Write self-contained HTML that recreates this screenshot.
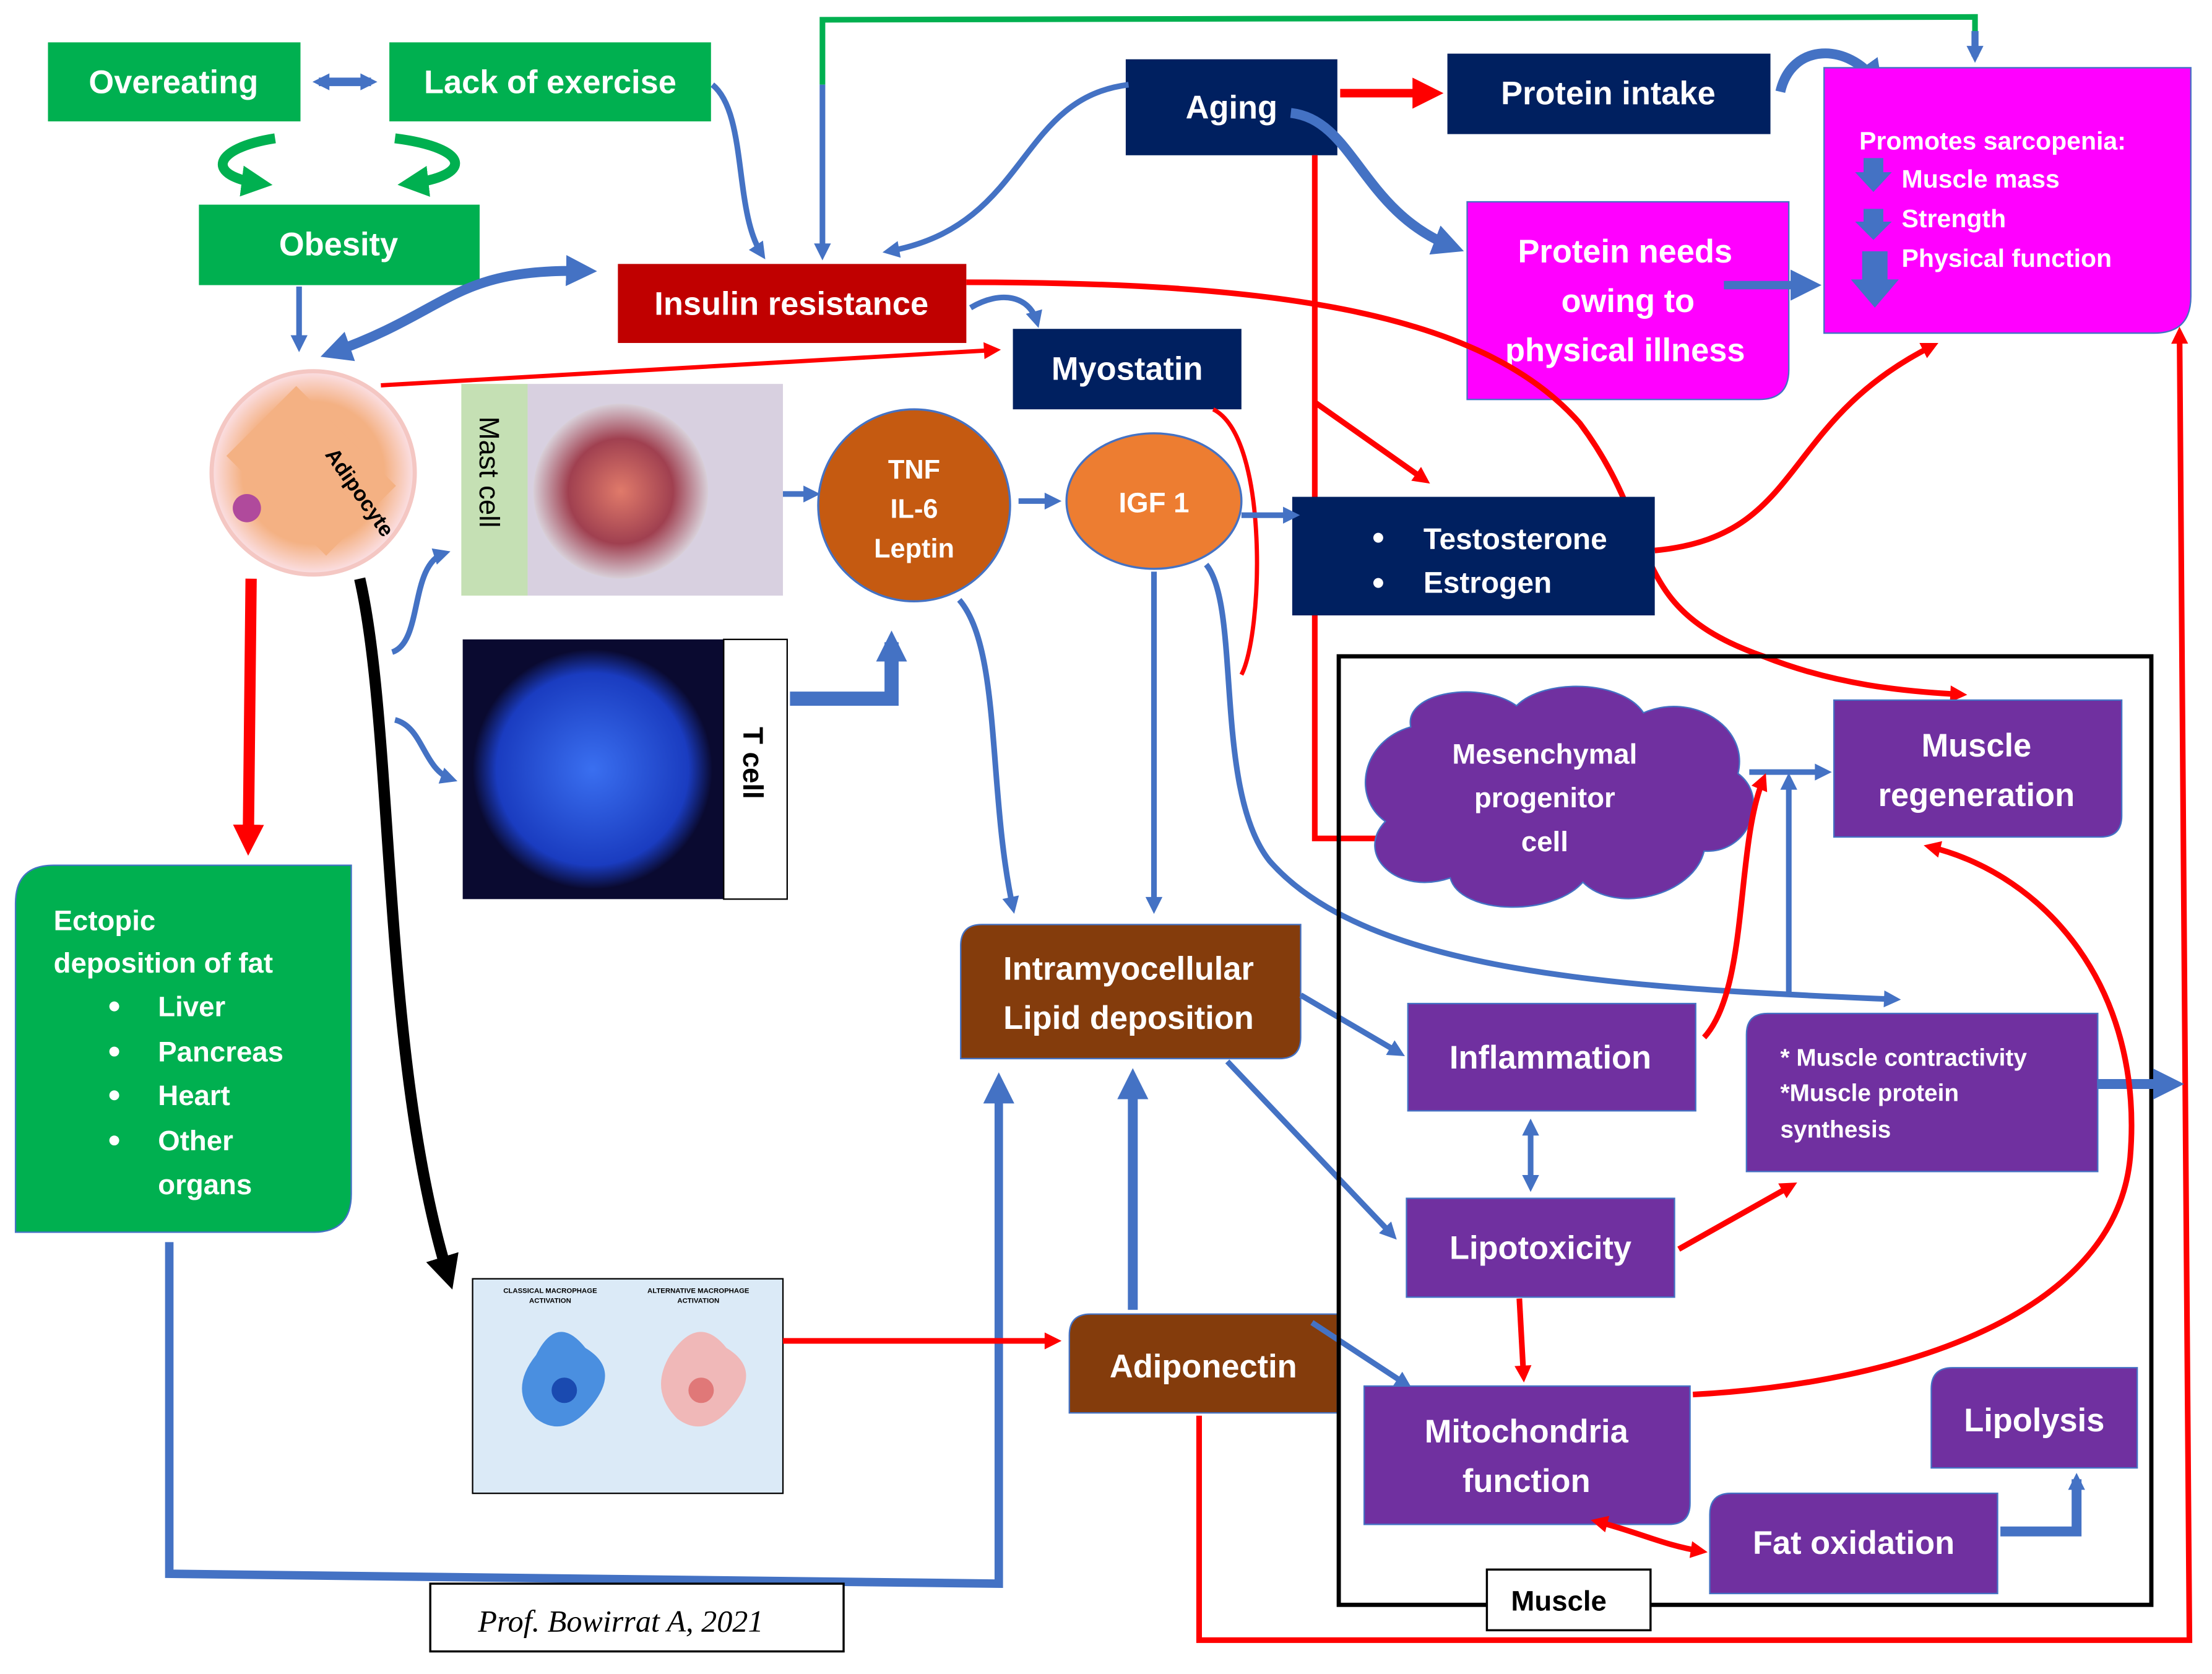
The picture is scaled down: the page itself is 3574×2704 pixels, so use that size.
<!DOCTYPE html>
<html><head><meta charset="utf-8"><style>
html,body{margin:0;padding:0;background:#fff;}
svg{display:block;}
text{font-family:"Liberation Sans","DejaVu Sans",sans-serif;font-weight:bold;fill:#fff;}
</style></head><body>
<svg width="3574" height="2704" viewBox="0 0 1568 1186" preserveAspectRatio="none" xmlns="http://www.w3.org/2000/svg">
<defs>
<marker id="ab" viewBox="0 0 4 4" markerWidth="14" markerHeight="12" refX="2.5" refY="2" orient="auto" markerUnits="userSpaceOnUse"><path d="M0,0 L4,2 L0,4 z" fill="#4472c4"/></marker>
<marker id="abL" viewBox="0 0 4 4" markerWidth="22" markerHeight="22" refX="2.5" refY="2" orient="auto" markerUnits="userSpaceOnUse"><path d="M0,0 L4,2 L0,4 z" fill="#4472c4"/></marker>
<marker id="ar" viewBox="0 0 4 4" markerWidth="14" markerHeight="12" refX="2.5" refY="2" orient="auto" markerUnits="userSpaceOnUse"><path d="M0,0 L4,2 L0,4 z" fill="#ff0000"/></marker>
<marker id="arL" viewBox="0 0 4 4" markerWidth="22" markerHeight="22" refX="2.5" refY="2" orient="auto" markerUnits="userSpaceOnUse"><path d="M0,0 L4,2 L0,4 z" fill="#ff0000"/></marker>
<marker id="ak" viewBox="0 0 4 4" markerWidth="24" markerHeight="24" refX="2.5" refY="2" orient="auto" markerUnits="userSpaceOnUse"><path d="M0,0 L4,2 L0,4 z" fill="#000"/></marker>
<marker id="ag" viewBox="0 0 4 4" markerWidth="22" markerHeight="22" refX="2.5" refY="2" orient="auto" markerUnits="userSpaceOnUse"><path d="M0,0 L4,2 L0,4 z" fill="#00b050"/></marker>
<marker id="abs" viewBox="0 0 4 4" markerWidth="14" markerHeight="12" refX="2.5" refY="2" orient="auto-start-reverse" markerUnits="userSpaceOnUse"><path d="M0,0 L4,2 L0,4 z" fill="#4472c4"/></marker>
<marker id="absL" viewBox="0 0 4 4" markerWidth="22" markerHeight="22" refX="2.5" refY="2" orient="auto-start-reverse" markerUnits="userSpaceOnUse"><path d="M0,0 L4,2 L0,4 z" fill="#4472c4"/></marker>
<marker id="ars" viewBox="0 0 4 4" markerWidth="14" markerHeight="12" refX="2.5" refY="2" orient="auto-start-reverse" markerUnits="userSpaceOnUse"><path d="M0,0 L4,2 L0,4 z" fill="#ff0000"/></marker>
<radialGradient id="adip" cx="50%" cy="50%" r="50%"><stop offset="0.7" stop-color="#f4b183"/><stop offset="1" stop-color="#fbe0e6"/></radialGradient>
<radialGradient id="mast" cx="50%" cy="50%" r="50%"><stop offset="0" stop-color="#e07a6a"/><stop offset="0.6" stop-color="#a04050"/><stop offset="1" stop-color="#d8cfd8"/></radialGradient>
<radialGradient id="tc" cx="50%" cy="50%" r="50%"><stop offset="0" stop-color="#3a6ff0"/><stop offset="0.8" stop-color="#1a3cc0"/><stop offset="1" stop-color="#0a0a30"/></radialGradient>
</defs>

<polyline points="583,60 583,14 1400,12 1400,24" fill="none" stroke="#00b050" stroke-width="4"/>
<line x1="583" y1="60" x2="583" y2="180" stroke="#4472c4" stroke-width="4" marker-end="url(#ab)"/>
<path d="M1400,22 L1400,40" stroke="#4472c4" stroke-width="5" marker-end="url(#ab)"/>

<rect x="34" y="30" width="179" height="56" fill="#00b050"/>
<text x="123" y="66" font-size="23" text-anchor="middle">Overeating</text>
<rect x="276" y="30" width="228" height="56" fill="#00b050"/>
<text x="390" y="66" font-size="23" text-anchor="middle">Lack of exercise</text>
<line x1="226" y1="58" x2="263" y2="58" stroke="#4472c4" stroke-width="6" marker-end="url(#ab)" marker-start="url(#abs)"/>
<rect x="141" y="145" width="199" height="57" fill="#00b050"/>
<text x="240" y="181" font-size="23" text-anchor="middle">Obesity</text>
<path d="M195,98 C150,105 145,125 185,130" fill="none" stroke="#00b050" stroke-width="7" marker-end="url(#ag)"/>
<path d="M280,98 C335,105 335,125 290,130" fill="none" stroke="#00b050" stroke-width="7" marker-end="url(#ag)"/>

<rect x="438" y="187" width="247" height="56" fill="#c00000"/>
<text x="561" y="223" font-size="23" text-anchor="middle">Insulin resistance</text>
<path d="M505,60 C530,80 520,150 540,180" fill="none" stroke="#4472c4" stroke-width="4" marker-end="url(#ab)"/>
<path d="M212,203 L212,245" stroke="#4472c4" stroke-width="4" marker-end="url(#ab)"/>
<path d="M235,250 C320,220 320,190 415,192" fill="none" stroke="#4472c4" stroke-width="7" marker-end="url(#abL)" marker-start="url(#absL)"/>
<path d="M688,218 C710,205 730,210 735,228" fill="none" stroke="#4472c4" stroke-width="4" marker-end="url(#ab)"/>

<rect x="798" y="42" width="150" height="68" fill="#002060"/>
<text x="873" y="84" font-size="23" text-anchor="middle">Aging</text>
<path d="M800,60 C720,70 730,160 630,178" fill="none" stroke="#4472c4" stroke-width="4" marker-end="url(#ab)"/>
<path d="M950,66 L1015,66" stroke="#ff0000" stroke-width="6" marker-end="url(#arL)"/>
<path d="M915,80 C960,85 965,150 1030,175" fill="none" stroke="#4472c4" stroke-width="7" marker-end="url(#abL)"/>
<rect x="1026" y="38" width="229" height="57" fill="#002060"/>
<text x="1140" y="74" font-size="23" text-anchor="middle">Protein intake</text>
<path d="M1262,65 C1270,30 1310,30 1330,58" fill="none" stroke="#4472c4" stroke-width="7" marker-end="url(#abL)"/>
<path d="M1293,48 L1553,48 L1553,210 Q1553,236 1527,236 L1293,236 Z" fill="#ff00ff" stroke="#4472c4" stroke-width="1"/>
<text x="1318" y="106" font-size="18">Promotes sarcopenia:</text>
<text x="1348" y="133" font-size="18">Muscle mass</text>
<text x="1348" y="161" font-size="18">Strength</text>
<text x="1348" y="189" font-size="18">Physical function</text>
<path d="M1321,112 L1335,112 L1335,122 L1341,122 L1328,136 L1315,122 L1321,122 Z" fill="#4472c4"/>
<path d="M1321,148 L1335,148 L1335,157 L1341,157 L1328,170 L1315,157 L1321,157 Z" fill="#4472c4"/>
<path d="M1320,178 L1338,178 L1338,198 L1346,198 L1329,218 L1312,198 L1320,198 Z" fill="#4472c4"/>
<path d="M1040,143 L1268,143 L1268,262 Q1268,283 1247,283 L1040,283 Z" fill="#ff00ff" stroke="#4472c4" stroke-width="1"/>
<text x="1152" y="186" font-size="23" text-anchor="middle">Protein needs</text>
<text x="1154" y="221" font-size="23" text-anchor="middle">owing to</text>
<text x="1152" y="256" font-size="23" text-anchor="middle">physical illness</text>
<path d="M1222,202 L1283,202" stroke="#4472c4" stroke-width="6" marker-end="url(#abL)"/>

<rect x="718" y="233" width="162" height="57" fill="#002060"/>
<text x="799" y="269" font-size="23" text-anchor="middle">Myostatin</text>
<path d="M270,273 L705,248" stroke="#ff0000" stroke-width="3" marker-end="url(#ar)"/>
<path d="M685,200 C900,200 1050,220 1120,300 C1180,380 1150,430 1250,465 C1300,485 1350,490 1390,492" fill="none" stroke="#ff0000" stroke-width="4" marker-end="url(#ar)"/>
<path d="M860,290 C900,310 895,450 880,478" fill="none" stroke="#ff0000" stroke-width="3"/>
<path d="M932,110 L932,594 L995,594" fill="none" stroke="#ff0000" stroke-width="4" marker-end="url(#ar)"/>
<path d="M932,285 L1010,340" stroke="#ff0000" stroke-width="4" marker-end="url(#ar)"/>

<rect x="916" y="352" width="257" height="84" fill="#002060"/>
<circle cx="977" cy="381" r="3.5" fill="#fff"/><circle cx="977" cy="413" r="3.5" fill="#fff"/>
<text x="1009" y="389" font-size="21">Testosterone</text>
<text x="1009" y="420" font-size="21">Estrogen</text>
<path d="M1173,390 C1280,380 1260,300 1370,245" fill="none" stroke="#ff0000" stroke-width="4" marker-end="url(#ar)"/>
<path d="M850,1003 L850,1162 L1552,1162 L1545,236" fill="none" stroke="#ff0000" stroke-width="4" marker-end="url(#ar)"/>

<circle cx="222" cy="335" r="72" fill="url(#adip)" stroke="#f4c7c3" stroke-width="3"/>
<rect x="170" y="300" width="100" height="70" fill="#f4b183" transform="rotate(45 222 335)"/>
<circle cx="175" cy="360" r="10" fill="#b04a9c"/>
<text x="230" y="322" font-size="15" style="fill:#000" transform="rotate(55 230 322)">Adipocyte</text>

<rect x="374" y="272" width="181" height="150" fill="#d8d0e0"/>
<circle cx="440" cy="348" r="62" fill="url(#mast)"/>
<rect x="327" y="272" width="47" height="150" fill="#c5e0b4"/>
<text x="340" y="295" font-size="20" style="fill:#000;font-weight:normal" transform="rotate(90 340 295)">Mast cell</text>
<path d="M555,350 L577,350" stroke="#4472c4" stroke-width="4" marker-end="url(#ab)"/>
<path d="M278,462 C300,455 290,400 315,392" fill="none" stroke="#4472c4" stroke-width="4" marker-end="url(#ab)"/>

<rect x="328" y="453" width="185" height="184" fill="#0a0a30"/>
<circle cx="420" cy="545" r="85" fill="url(#tc)"/>
<rect x="513" y="453" width="45" height="184" fill="#fff" stroke="#000" stroke-width="1"/>
<text x="527" y="515" font-size="20" style="fill:#000" transform="rotate(90 527 515)">T cell</text>
<path d="M280,510 C300,515 300,545 320,552" fill="none" stroke="#4472c4" stroke-width="4" marker-end="url(#ab)"/>
<path d="M560,495 L632,495 L632,455" fill="none" stroke="#4472c4" stroke-width="10" marker-end="url(#abL)"/>

<circle cx="648" cy="358" r="68" fill="#c55a11" stroke="#4472c4" stroke-width="1.5"/>
<text x="648" y="339" font-size="19" text-anchor="middle">TNF</text>
<text x="648" y="367" font-size="19" text-anchor="middle">IL-6</text>
<text x="648" y="395" font-size="19" text-anchor="middle">Leptin</text>
<path d="M722,355 L748,355" stroke="#4472c4" stroke-width="4" marker-end="url(#ab)"/>
<path d="M680,425 C710,460 700,560 718,643" fill="none" stroke="#4472c4" stroke-width="4" marker-end="url(#ab)"/>

<ellipse cx="818" cy="355" rx="62" ry="48" fill="#ed7d31" stroke="#4472c4" stroke-width="1.5"/>
<text x="818" y="363" font-size="20" text-anchor="middle">IGF 1</text>
<path d="M880,365 L917,365" stroke="#4472c4" stroke-width="4" marker-end="url(#ab)"/>
<path d="M818,405 L818,643" stroke="#4472c4" stroke-width="4" marker-end="url(#ab)"/>
<path d="M855,400 C880,430 860,560 900,610 C970,690 1150,700 1343,708" fill="none" stroke="#4472c4" stroke-width="4" marker-end="url(#ab)"/>

<path d="M11,640 Q11,613 38,613 L249,613 L249,846 Q249,873 222,873 L11,873 Z" fill="#00b050" stroke="#4472c4" stroke-width="1"/>
<text x="38" y="659" font-size="20">Ectopic</text>
<text x="38" y="689" font-size="20">deposition of fat</text>
<g font-size="20"><text x="112" y="720">Liver</text><text x="112" y="752">Pancreas</text><text x="112" y="783">Heart</text><text x="112" y="815">Other</text><text x="112" y="846">organs</text></g>
<circle cx="81" cy="713" r="3.5" fill="#fff"/><circle cx="81" cy="745" r="3.5" fill="#fff"/><circle cx="81" cy="776" r="3.5" fill="#fff"/><circle cx="81" cy="808" r="3.5" fill="#fff"/>
<path d="M178,410 L176,598" stroke="#ff0000" stroke-width="8" marker-end="url(#arL)"/>
<path d="M255,410 C280,520 270,750 318,905" fill="none" stroke="#000" stroke-width="8" marker-end="url(#ak)"/>
<path d="M120,880 L120,1115 L708,1122 L708,768" fill="none" stroke="#4472c4" stroke-width="6" marker-end="url(#abL)"/>

<rect x="335" y="906" width="220" height="152" fill="#dbeaf7" stroke="#000" stroke-width="1"/>
<text x="390" y="916" font-size="5" style="fill:#000" text-anchor="middle">CLASSICAL MACROPHAGE</text>
<text x="390" y="923" font-size="5" style="fill:#000" text-anchor="middle">ACTIVATION</text>
<text x="495" y="916" font-size="5" style="fill:#000" text-anchor="middle">ALTERNATIVE MACROPHAGE</text>
<text x="495" y="923" font-size="5" style="fill:#000" text-anchor="middle">ACTIVATION</text>
<path d="M380,960 Q395,930 415,955 Q440,970 420,995 Q400,1020 380,1005 Q360,985 380,960Z" fill="#4a8fe0"/>
<circle cx="400" cy="985" r="9" fill="#1a4ab0"/>
<path d="M475,960 Q495,930 515,955 Q540,970 520,995 Q500,1020 480,1005 Q460,985 475,960Z" fill="#f0b8b8"/>
<circle cx="497" cy="985" r="9" fill="#e07878"/>
<path d="M555,950 L748,950" stroke="#ff0000" stroke-width="4" marker-end="url(#ar)"/>

<path d="M681,670 Q681,655 696,655 L922,655 L922,735 Q922,750 907,750 L681,750 Z" fill="#843c0c" stroke="#4472c4" stroke-width="1"/>
<text x="800" y="694" font-size="23" text-anchor="middle">Intramyocellular</text>
<text x="800" y="729" font-size="23" text-anchor="middle">Lipid deposition</text>
<path d="M922,705 L992,746" stroke="#4472c4" stroke-width="4" marker-end="url(#ab)"/>
<path d="M870,752 L987,875" stroke="#4472c4" stroke-width="4" marker-end="url(#ab)"/>
<path d="M758,946 Q758,931 773,931 L948,931 L948,1001 L758,1001 Z" fill="#843c0c" stroke="#4472c4" stroke-width="1"/>
<text x="853" y="976" font-size="23" text-anchor="middle">Adiponectin</text>
<path d="M803,928 L803,765" stroke="#4472c4" stroke-width="7" marker-end="url(#abL)"/>
<path d="M930,937 L997,981" stroke="#4472c4" stroke-width="4" marker-end="url(#ab)"/>

<rect x="949" y="465" width="576" height="672" fill="none" stroke="#000" stroke-width="3"/>
<rect x="1054" y="1112" width="116" height="43" fill="#fff" stroke="#000" stroke-width="1.5"/>
<text x="1105" y="1141" font-size="20" text-anchor="middle" style="fill:#000">Muscle</text>

<path fill="#7030a0" stroke="#4472c4" stroke-width="1" d="M1000,515 C995,490 1050,482 1075,500 C1095,480 1150,482 1165,505 C1200,490 1240,515 1232,548 C1255,565 1240,605 1208,603 C1200,635 1145,648 1122,625 C1100,650 1035,648 1028,622 C990,635 960,605 982,582 C958,565 965,525 1000,515Z"/>
<text x="1095" y="541" font-size="20" text-anchor="middle">Mesenchymal</text>
<text x="1095" y="572" font-size="20" text-anchor="middle">progenitor</text>
<text x="1095" y="603" font-size="20" text-anchor="middle">cell</text>
<path d="M1240,547 L1294,547" stroke="#4472c4" stroke-width="4" marker-end="url(#ab)"/>

<path d="M1300,496 L1504,496 L1504,578 Q1504,593 1489,593 L1300,593 Z" fill="#7030a0" stroke="#4472c4" stroke-width="1"/>
<text x="1401" y="536" font-size="23" text-anchor="middle">Muscle</text>
<text x="1401" y="571" font-size="23" text-anchor="middle">regeneration</text>
<rect x="998" y="711" width="204" height="76" fill="#7030a0" stroke="#4472c4" stroke-width="1"/>
<text x="1099" y="757" font-size="23" text-anchor="middle">Inflammation</text>
<path d="M1208,735 C1240,700 1230,600 1250,552" fill="none" stroke="#ff0000" stroke-width="4" marker-end="url(#ar)"/>
<path d="M1268,705 L1268,552" stroke="#4472c4" stroke-width="4" marker-end="url(#ab)"/>
<path d="M1085,797 L1085,840" stroke="#4472c4" stroke-width="4" marker-end="url(#ab)" marker-start="url(#abs)"/>
<path d="M1238,733 Q1238,718 1253,718 L1487,718 L1487,830 L1238,830 Z" fill="#7030a0" stroke="#4472c4" stroke-width="1"/>
<text x="1262" y="755" font-size="17">* Muscle contractivity</text>
<text x="1262" y="780" font-size="17">*Muscle protein</text>
<text x="1262" y="806" font-size="17">synthesis</text>
<path d="M1487,768 L1540,768" stroke="#4472c4" stroke-width="7" marker-end="url(#abL)"/>
<rect x="997" y="849" width="190" height="70" fill="#7030a0" stroke="#4472c4" stroke-width="1"/>
<text x="1092" y="892" font-size="23" text-anchor="middle">Lipotoxicity</text>
<path d="M1190,885 L1270,840" stroke="#ff0000" stroke-width="4" marker-end="url(#ar)"/>
<path d="M1077,920 L1080,975" stroke="#ff0000" stroke-width="4" marker-end="url(#ar)"/>
<path d="M967,982 L1198,982 L1198,1065 Q1198,1080 1183,1080 L967,1080 Z" fill="#7030a0" stroke="#4472c4" stroke-width="1"/>
<text x="1082" y="1022" font-size="23" text-anchor="middle">Mitochondria</text>
<text x="1082" y="1057" font-size="23" text-anchor="middle">function</text>
<path d="M1200,988 C1350,980 1500,930 1510,820 C1520,700 1450,620 1368,600" fill="none" stroke="#ff0000" stroke-width="4" marker-end="url(#ar)"/>
<path d="M1132,1078 C1160,1085 1180,1095 1206,1099" fill="none" stroke="#ff0000" stroke-width="4" marker-end="url(#ar)" marker-start="url(#ars)"/>
<path d="M1384,969 L1515,969 L1515,1040 L1369,1040 L1369,984 Q1369,969 1384,969 Z" fill="#7030a0" stroke="#4472c4" stroke-width="1"/>
<text x="1442" y="1014" font-size="23" text-anchor="middle">Lipolysis</text>
<path d="M1227,1058 L1416,1058 L1416,1129 L1212,1129 L1212,1073 Q1212,1058 1227,1058 Z" fill="#7030a0" stroke="#4472c4" stroke-width="1"/>
<text x="1314" y="1101" font-size="23" text-anchor="middle">Fat oxidation</text>
<path d="M1418,1085 L1472,1085 L1472,1048" fill="none" stroke="#4472c4" stroke-width="7" marker-end="url(#ab)"/>

<rect x="305" y="1122" width="293" height="48" fill="#fff" stroke="#000" stroke-width="1.5"/>
<text x="440" y="1156" font-size="22" text-anchor="middle" style="fill:#000;font-family:'Liberation Serif',serif;font-style:italic;font-weight:normal">Prof. Bowirrat A, 2021</text>
</svg>
</body></html>
